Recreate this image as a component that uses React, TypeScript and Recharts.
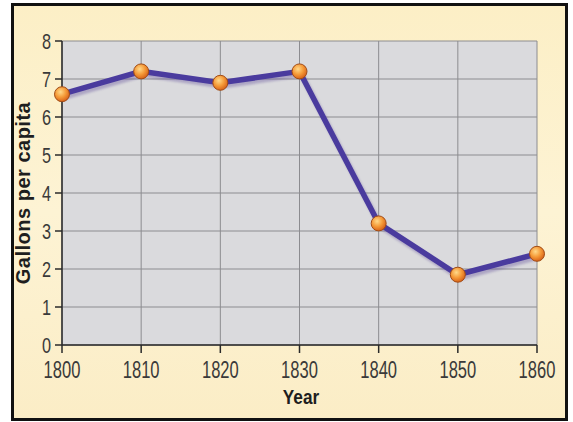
import { LineChart, Line, XAxis, YAxis, CartesianGrid, Label } from 'recharts';

const years = [1800, 1810, 1820, 1830, 1840, 1850, 1860];
const gallons = [6.6, 7.2, 6.9, 7.2, 3.2, 1.85, 2.4];
const yTicks = [0, 1, 2, 3, 4, 5, 6, 7, 8];

const data = years.map((year, i) => ({ year, gallons: gallons[i] }));

const FONT = '"Liberation Sans", Arial, sans-serif';

// condensed look: squeeze regular text horizontally
const XTick = (props: any) => {
  const { x, y, payload } = props;
  return (
    <g transform={`translate(${x},${y}) scale(0.72,1)`}>
      <text x={0} y={0} dy={23.5} textAnchor="middle" fontFamily={FONT} fontSize={23} fill="#3a3a3a">
        {payload.value}
      </text>
    </g>
  );
};

const YTick = (props: any) => {
  const { x, y, payload } = props;
  return (
    <g transform={`translate(${x},${y}) scale(0.74,1)`}>
      <text x={0} y={0} dy={7.5} textAnchor="end" fontFamily={FONT} fontSize={22} fill="#3a3a3a">
        {payload.value}
      </text>
    </g>
  );
};

const OrangeDot = (props: any) => {
  const { cx, cy, index } = props;
  const id = `dotGrad${index}`;
  return (
    <g>
      <defs>
        <radialGradient id={id} cx="40%" cy="35%" r="65%">
          <stop offset="0%" stopColor="#ffd98a" />
          <stop offset="55%" stopColor="#f59a38" />
          <stop offset="100%" stopColor="#d9641a" />
        </radialGradient>
      </defs>
      <circle cx={cx} cy={cy} r={7.5} fill={`url(#${id})`} stroke="#a14c16" strokeWidth={1} />
    </g>
  );
};

const YTitle = () => (
  <g transform="translate(30,193) rotate(-90)">
    <text x={0} y={0} textAnchor="middle" fontFamily={FONT} fontSize={20} fontWeight={700} letterSpacing={0.5} fill="#1e1e1e">
      Gallons per capita
    </text>
  </g>
);

const XTitle = () => (
  <g transform="translate(301,404) scale(0.82,1)">
    <text x={0} y={0} textAnchor="middle" fontFamily={FONT} fontSize={21} fontWeight={700} fill="#1e1e1e">
      Year
    </text>
  </g>
);

export default function App() {
  return (
    <div style={{ position: 'absolute', left: 0, top: 0, width: 573, height: 422, background: '#ffffff' }}>
      <div
        style={{
          position: 'absolute',
          left: 11,
          top: 3,
          width: 551,
          height: 412,
          border: '3px solid #111',
          background: 'linear-gradient(180deg, #fcefc6 0%, #fdf3d4 50%, #fbedc6 100%)',
        }}
      />
      <div style={{ position: 'absolute', left: 0, top: 0 }}>
        <LineChart width={573} height={422} data={data} margin={{ top: 41, right: 36, bottom: 47, left: 22 }}>
          <CartesianGrid
            fill="#dadadd"
            stroke="#8c8c90"
            strokeWidth={1}
            horizontalValues={yTicks}
            verticalValues={years}
          />
          <XAxis
            dataKey="year"
            type="number"
            domain={[1800, 1860]}
            ticks={years}
            tick={<XTick />}
            tickSize={8}
            tickMargin={2}
            stroke="#2a2a2a"
            strokeWidth={1.5}
            height={30}
          >
            <Label content={<XTitle />} />
          </XAxis>
          <YAxis
            domain={[0, 8]}
            ticks={yTicks}
            tick={<YTick />}
            tickSize={7}
            tickMargin={4}
            stroke="#2a2a2a"
            strokeWidth={1.5}
            width={40}
          >
            <Label content={<YTitle />} />
          </YAxis>
          <Line
            type="linear"
            dataKey="gallons"
            stroke="#4a3b9e"
            strokeWidth={5.5}
            style={{ filter: 'drop-shadow(2px 3px 1px rgba(90,70,150,0.35))' }}
            dot={<OrangeDot />}
            activeDot={false}
            isAnimationActive={false}
          />
        </LineChart>
      </div>
    </div>
  );
}
